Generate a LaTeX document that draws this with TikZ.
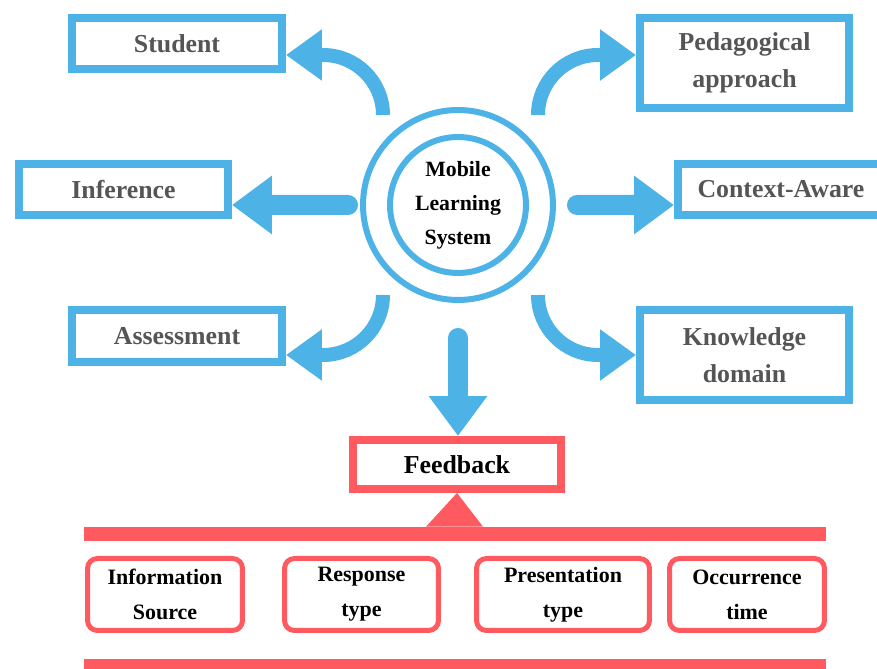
\documentclass[tikz,border=0pt]{standalone}
\usepackage{fontspec}
\setmainfont{Liberation Serif}
\usepackage{tikz}
\usetikzlibrary{calc,arrows.meta}
\definecolor{mlblue}{HTML}{4DB3E6}
\definecolor{fbred}{HTML}{FF5A5F}
\definecolor{labgray}{HTML}{555555}
\tikzstyle{topic} = [draw=mlblue, line width=0.16cm, rectangle, text=labgray, font=\bfseries\fontsize{14.7}{21}\selectfont, align=center, inner sep=0pt]
\tikzstyle{part} = [draw=fbred, line width=0.1cm, rounded corners=0.2cm, font=\bfseries\fontsize{12.5}{19.8}\selectfont, align=center, minimum height=1.44cm, inner sep=0pt]
\tikzstyle{redbar} = [fill=fbred, minimum width=14.84cm, minimum height=0.28cm, inner sep=0pt]
\tikzstyle{ring} = [circle, draw=mlblue, line width=0.12cm, inner sep=0pt]
\tikzstyle{bendarrow} = [draw=mlblue, line width=0.28cm, -{Triangle[length=0.72cm,width=0.98cm]}]
\tikzstyle{flatarrow} = [draw=mlblue, line width=0.4cm, line cap=round, -{Triangle[length=0.8cm,width=1.12cm]}]

\begin{document}
\begin{tikzpicture}[x=0.02cm, y=0.02cm]
    \useasboundingbox (0,0) rectangle (877,669);
    \node[ring, minimum size=3.8cm] (mls) at (458,464) {};
    \node[ring, minimum size=2.72cm, font=\bfseries\fontsize{12.4}{19.3}\selectfont, align=center] (mlsin) at (mls) {Mobile\\Learning\\System};
    \node[topic, minimum width=4.2cm, minimum height=1.02cm] (stu) at (177,625.5) {Student};
    \node[topic, minimum width=4.18cm, minimum height=1.02cm] (inf) at (123.5,479.5) {Inference};
    \node[topic, minimum width=4.2cm, minimum height=1.04cm] (ass) at (177,333) {Assessment};
    \node[topic, minimum width=4.18cm, minimum height=1.8cm] (ped) at (744.5,606) {Pedagogical\\approach};
    \node[topic, minimum width=4.12cm, minimum height=1.02cm] (ctx) at (781,479.5) {Context-Aware};
    \node[topic, minimum width=4.18cm, minimum height=1.8cm] (kno) at (744.5,314) {Knowledge\\domain};
    \node[topic, draw=fbred, text=black, minimum width=4.16cm, minimum height=0.98cm] (fb) at (457,204.5) {Feedback};
    \node[redbar] (bar1) at (455,135) {};
    \node[redbar] (bar2) at (455,3) {};
    \node[part, minimum width=3.1cm] (src) at (165,74.5) {Information\\Source};
    \node[part, minimum width=3.08cm] (resp) at (361.5,74.5) {Response\\type};
    \node[part, minimum width=3.46cm] (pres) at (563,74.5) {Presentation\\type};
    \node[part, minimum width=3.1cm] (occ) at (747,74.5) {Occurrence\\time};

    \draw[bendarrow] ($(mls)+(-75,90)$) arc[start angle=0, end angle=90, radius=60] -- ([yshift=-0.23cm]stu.east);
    \draw[bendarrow] ($(mls)+(80,90)$) arc[start angle=180, end angle=90, radius=60] -- ([yshift=0.16cm]ped.west);
    \draw[bendarrow] ($(mls)+(-75,-90)$) arc[start angle=0, end angle=-90, radius=60] -- ([yshift=-0.38cm]ass.east);
    \draw[bendarrow] ($(mls)+(80,-90)$) arc[start angle=180, end angle=270, radius=60] -- (kno.west);
    \draw[flatarrow] ([xshift=-0.24cm]mls.west) -- ([yshift=-0.31cm]inf.east);
    \draw[flatarrow] ([xshift=0.42cm]mls.east) -- ([yshift=-0.31cm]ctx.west);
    \draw[flatarrow] ([yshift=-0.7cm]mls.south) -- (mls.south |- fb.north);
    \fill[fbred] (fb.south) -- ($(bar1.north)+(-29,0)$) -- ($(bar1.north)+(28,0)$) -- cycle;
\end{tikzpicture}
\end{document}
